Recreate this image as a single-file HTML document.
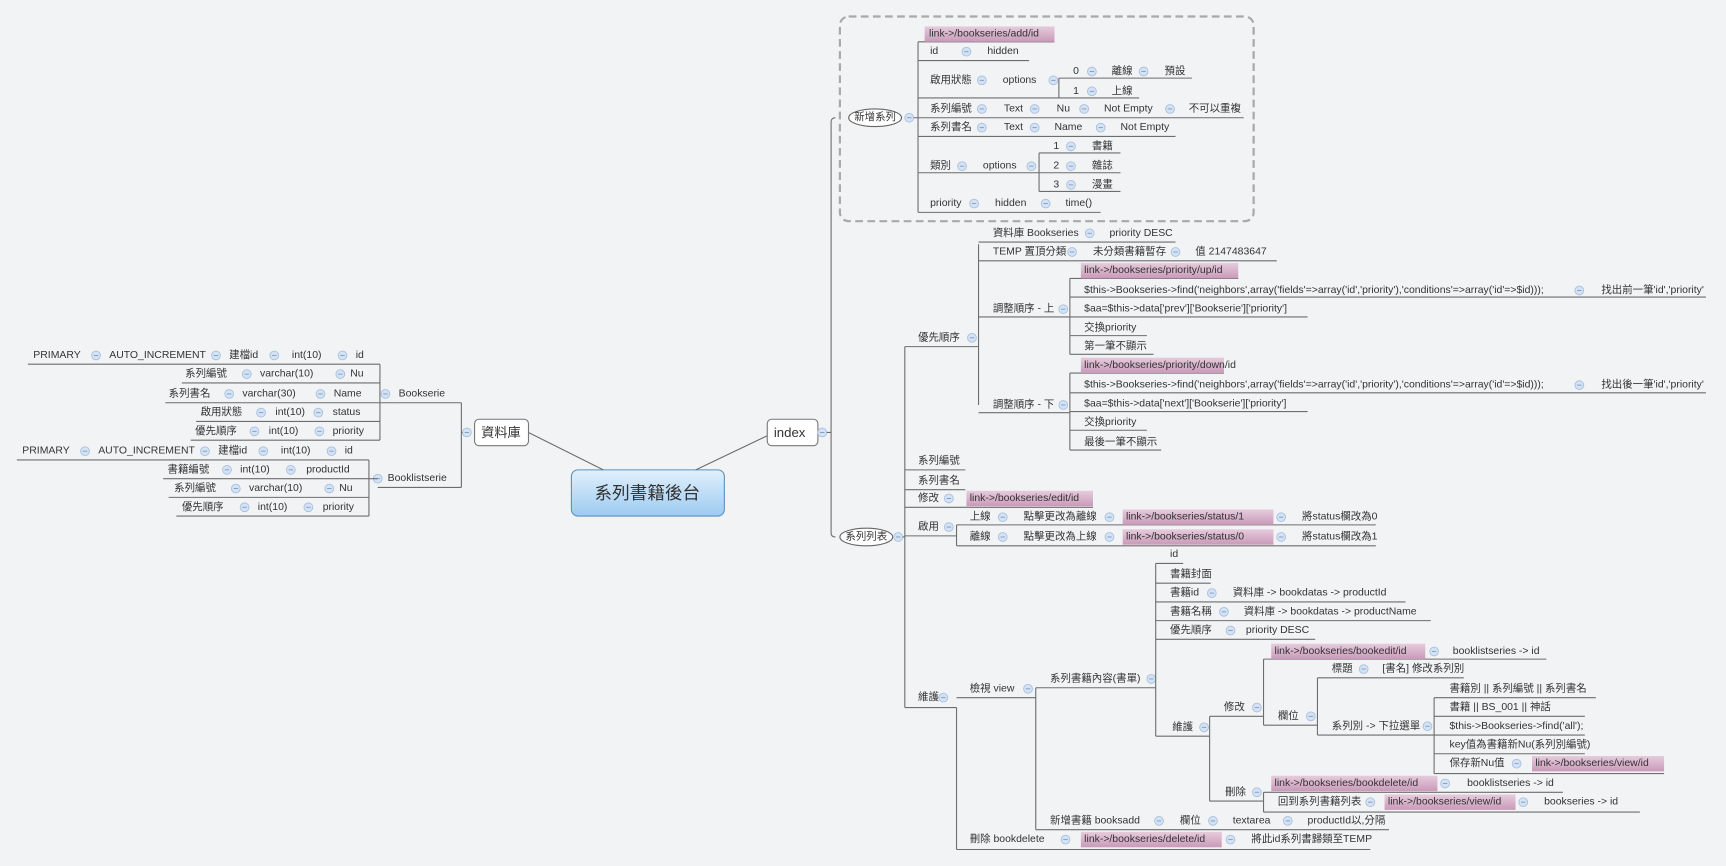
<!DOCTYPE html>
<html><head><meta charset="utf-8"><style>
html,body{margin:0;padding:0;background:#f2f3f5;}
svg{display:block}
text{font-family:"Liberation Sans","Noto Sans CJK TC",sans-serif;font-size:9.5px;fill:#333;dominant-baseline:central}
.l{stroke:#6d6d6d;stroke-width:1;fill:none}
</style></head><body>
<svg width="1726" height="866" viewBox="0 0 1568 787" xmlns="http://www.w3.org/2000/svg">
<defs>
<linearGradient id="cg" x1="0" y1="0" x2="0" y2="1"><stop offset="0" stop-color="#e2f0fb"/><stop offset="1" stop-color="#9ccbf2"/></linearGradient>
<linearGradient id="hg" x1="0" y1="0" x2="0" y2="1"><stop offset="0" stop-color="#e6cbdc"/><stop offset="1" stop-color="#c99ab9"/></linearGradient>
<g id="m"><circle r="4" fill="#d3e3f5" stroke="#a7bfdc" stroke-width="0.8"/><line x1="-2" x2="2" y1="0" y2="0" stroke="#7d98bd" stroke-width="0.8"/></g>
</defs>
<rect width="1568" height="787" fill="#f2f3f5"/>

<!-- center -->
<rect x="519" y="427" width="139" height="42" rx="6" fill="url(#cg)" stroke="#5d8fbd"/>
<text x="588" y="448" text-anchor="middle" style="font-size:16px">系列書籍後台</text>
<path class="l" d="M480 393 L548 427 M632 427 L697 396"/>
<rect x="431" y="381" width="49" height="24" rx="4" fill="#fff" stroke="#777"/>
<text x="437" y="393" style="font-size:12px">資料庫</text>
<use href="#m" x="424" y="393"/>
<rect x="697" y="381" width="46" height="24" rx="4" fill="#fff" stroke="#777"/>
<text x="703" y="393" style="font-size:12px">index</text>
<use href="#m" x="747" y="393"/>

<!-- LEFT -->
<path class="l" d="M420 393 L419 393 M419 366 V443 M362 366 H419 M343 443 H419"/>
<text x="362" y="358">Bookserie</text><use href="#m" x="350" y="358"/>
<text x="352" y="435">Booklistserie</text><use href="#m" x="343" y="435"/>
<path class="l" d="M345 331 V400 M25 331 H345 M165 348 H345 M150 366 H362 M178 383 H345 M173 400 H345"/>
<text x="30" y="323">PRIMARY</text><use href="#m" x="87" y="323"/><text x="99" y="323">AUTO_INCREMENT</text><use href="#m" x="196" y="323"/><text x="208" y="323">建檔id</text><use href="#m" x="249" y="323"/><text x="265" y="323">int(10)</text><use href="#m" x="311" y="323"/><text x="323" y="323">id</text>
<text x="168" y="340">系列編號</text><use href="#m" x="224" y="340"/><text x="236" y="340">varchar(10)</text><use href="#m" x="309" y="340"/><text x="318" y="340">Nu</text>
<text x="153" y="358">系列書名</text><use href="#m" x="208" y="358"/><text x="220" y="358">varchar(30)</text><use href="#m" x="291" y="358"/><text x="303" y="358">Name</text>
<text x="182" y="375">啟用狀態</text><use href="#m" x="237" y="375"/><text x="250" y="375">int(10)</text><use href="#m" x="289" y="375"/><text x="302" y="375">status</text>
<text x="177" y="392">優先順序</text><use href="#m" x="231" y="392"/><text x="244" y="392">int(10)</text><use href="#m" x="290" y="392"/><text x="302" y="392">priority</text>
<path class="l" d="M335 418 V469 M15 418 H335 M148 435 H343 M153 452 H335 M160 469 H335"/>
<text x="20" y="410">PRIMARY</text><use href="#m" x="77" y="410"/><text x="89" y="410">AUTO_INCREMENT</text><use href="#m" x="186" y="410"/><text x="198" y="410">建檔id</text><use href="#m" x="239" y="410"/><text x="255" y="410">int(10)</text><use href="#m" x="301" y="410"/><text x="313" y="410">id</text>
<text x="152" y="427">書籍編號</text><use href="#m" x="206" y="427"/><text x="218" y="427">int(10)</text><use href="#m" x="264" y="427"/><text x="278" y="427">productId</text>
<text x="158" y="444">系列編號</text><use href="#m" x="214" y="444"/><text x="226" y="444">varchar(10)</text><use href="#m" x="299" y="444"/><text x="308" y="444">Nu</text>
<text x="165" y="461">優先順序</text><use href="#m" x="222" y="461"/><text x="234" y="461">int(10)</text><use href="#m" x="280" y="461"/><text x="293" y="461">priority</text>

<!-- RIGHT main -->
<path class="l" d="M751 393 H755 M759 107 Q755 107 755 111 V484 Q755 488 759 488"/>
<rect x="763" y="15" width="376" height="186" rx="8" fill="none" stroke="#a9a9a9" stroke-width="2" stroke-dasharray="7 4"/>
<ellipse cx="795" cy="107" rx="24" ry="8" fill="#fff" stroke="#666"/>
<text x="795" y="107" text-anchor="middle">新增系列</text><use href="#m" x="826" y="107"/>
<path class="l" d="M830 107 H1130 M834 38 V193 M834 38 H958 M834 55 H935 M834 89 H962 M834 124 H1068 M834 157 H944 M834 193 H1000"/>
<rect x="840" y="24" width="118" height="14" fill="url(#hg)"/>
<text x="844" y="31">link-&gt;/bookseries/add/id</text>
<text x="845" y="47">id</text><use href="#m" x="878" y="47"/><text x="897" y="47">hidden</text>
<text x="845" y="73">啟用狀態</text><use href="#m" x="892" y="73"/><text x="911" y="73">options</text><use href="#m" x="957" y="73"/>
<path class="l" d="M962 71 V89 M962 71 H1083 M962 89 H1035"/>
<text x="975" y="65">0</text><use href="#m" x="992" y="65"/><text x="1010" y="65">離線</text><use href="#m" x="1039" y="65"/><text x="1058" y="65">預設</text>
<text x="975" y="83">1</text><use href="#m" x="992" y="83"/><text x="1010" y="83">上線</text>
<text x="845" y="99">系列編號</text><use href="#m" x="892" y="99"/><text x="912" y="99">Text</text><use href="#m" x="940" y="99"/><text x="960" y="99">Nu</text><use href="#m" x="985" y="99"/><text x="1003" y="99">Not Empty</text><use href="#m" x="1063" y="99"/><text x="1080" y="99">不可以重複</text>
<text x="845" y="116">系列書名</text><use href="#m" x="892" y="116"/><text x="912" y="116">Text</text><use href="#m" x="940" y="116"/><text x="958" y="116">Name</text><use href="#m" x="1000" y="116"/><text x="1018" y="116">Not Empty</text>
<text x="845" y="151">類別</text><use href="#m" x="874" y="151"/><text x="893" y="151">options</text><use href="#m" x="937" y="151"/>
<path class="l" d="M944 139 V174 M944 139 H1018 M944 157 H1018 M944 174 H1018"/>
<text x="957" y="133">1</text><use href="#m" x="973" y="133"/><text x="992" y="133">書籍</text>
<text x="957" y="151">2</text><use href="#m" x="973" y="151"/><text x="992" y="151">雜誌</text>
<text x="957" y="168">3</text><use href="#m" x="973" y="168"/><text x="992" y="168">漫畫</text>
<text x="845" y="185">priority</text><use href="#m" x="885" y="185"/><text x="904" y="185">hidden</text><use href="#m" x="950" y="185"/><text x="968" y="185">time()</text>

<!-- 系列列表 -->
<ellipse cx="787" cy="488" rx="24" ry="8" fill="#fff" stroke="#666"/>
<text x="787" y="488" text-anchor="middle">系列列表</text><use href="#m" x="816" y="488"/>
<path class="l" d="M820 488 H822 M822 315 V643 M822 315 H889 M822 427 H877 M822 445 H877 M822 461 H993 M822 487 H869 M822 643 H869"/>
<text x="834" y="307">優先順序</text><use href="#m" x="883" y="307"/>
<path class="l" d="M889 222 V368 M889 220 H1068 M889 237 H1160 M889 288 H972 M889 375 H972"/>
<text x="902" y="212">資料庫 Bookseries</text><use href="#m" x="990" y="212"/><text x="1008" y="212">priority DESC</text>
<text x="902" y="229">TEMP 置頂分類</text><use href="#m" x="974" y="229"/><text x="993" y="229">未分類書籍暫存</text><use href="#m" x="1068" y="229"/><text x="1086" y="229">值 2147483647</text>
<text x="902" y="281">調整順序 - 上</text><use href="#m" x="966" y="281"/>
<path class="l" d="M972 253 V322 M972 253 H1125 M972 270 H1550 M972 288 H1188 M972 305 H1042 M972 322 H1048"/>
<rect x="982" y="239" width="143" height="14" fill="url(#hg)"/>
<text x="985" y="246">link-&gt;/bookseries/priority/up/id</text>
<text x="985" y="264">$this-&gt;Bookseries-&gt;find('neighbors',array('fields'=&gt;array('id','priority'),'conditions'=&gt;array('id'=&gt;$id)));</text><use href="#m" x="1435" y="264"/><text x="1455" y="264">找出前一筆'id','priority'</text>
<text x="985" y="281">$aa=$this-&gt;data['prev']['Bookserie']['priority']</text>
<text x="985" y="298">交換priority</text>
<text x="985" y="315">第一筆不顯示</text>
<text x="902" y="368">調整順序 - 下</text><use href="#m" x="966" y="368"/>
<path class="l" d="M972 339 V409 M972 339 H1112 M972 357 H1550 M972 374 H1188 M972 391 H1042 M972 409 H1055"/>
<rect x="982" y="325" width="130" height="14" fill="url(#hg)"/>
<text x="985" y="332">link-&gt;/bookseries/priority/down/id</text>
<text x="985" y="350">$this-&gt;Bookseries-&gt;find('neighbors',array('fields'=&gt;array('id','priority'),'conditions'=&gt;array('id'=&gt;$id)));</text><use href="#m" x="1435" y="350"/><text x="1455" y="350">找出後一筆'id','priority'</text>
<text x="985" y="367">$aa=$this-&gt;data['next']['Bookserie']['priority']</text>
<text x="985" y="384">交換priority</text>
<text x="985" y="402">最後一筆不顯示</text>

<text x="834" y="419">系列編號</text>
<text x="834" y="437">系列書名</text>
<text x="834" y="453">修改</text><use href="#m" x="862" y="453"/>
<rect x="878" y="446" width="115" height="14" fill="url(#hg)"/><text x="881" y="453">link-&gt;/bookseries/edit/id</text>
<text x="834" y="479">啟用</text><use href="#m" x="862" y="479"/>
<path class="l" d="M869 477 V496 M869 477 H1250 M869 496 H1250"/>
<text x="881" y="470">上線</text><use href="#m" x="911" y="470"/><text x="930" y="470">點擊更改為離線</text><use href="#m" x="1008" y="470"/>
<rect x="1020" y="463" width="137" height="14" fill="url(#hg)"/><text x="1023" y="470">link-&gt;/bookseries/status/1</text><use href="#m" x="1164" y="470"/><text x="1183" y="470">將status欄改為0</text>
<text x="881" y="488">離線</text><use href="#m" x="911" y="488"/><text x="930" y="488">點擊更改為上線</text><use href="#m" x="1008" y="488"/>
<rect x="1020" y="481" width="137" height="14" fill="url(#hg)"/><text x="1023" y="488">link-&gt;/bookseries/status/0</text><use href="#m" x="1164" y="488"/><text x="1183" y="488">將status欄改為1</text>

<text x="834" y="634">維護</text><use href="#m" x="857" y="634"/>
<path class="l" d="M869 643 V772 M869 634 H941 M869 772 H1245"/>
<text x="881" y="626">檢視 view</text><use href="#m" x="934" y="626"/>
<path class="l" d="M941 625 V754 M941 625 H1050 M941 754 H1262"/>
<text x="954" y="617">系列書籍內容(書單)</text><use href="#m" x="1046" y="617"/>
<path class="l" d="M1050 512 V669 M1050 512 H1075 M1050 530 H1100 M1050 547 H1277 M1050 564 H1300 M1050 581 H1195 M1050 669 H1099"/>
<text x="1063" y="504">id</text>
<text x="1063" y="522">書籍封面</text>
<text x="1063" y="539">書籍id</text><use href="#m" x="1101" y="539"/><text x="1120" y="539">資料庫 -&gt; bookdatas -&gt; productId</text>
<text x="1063" y="556">書籍名稱</text><use href="#m" x="1112" y="556"/><text x="1130" y="556">資料庫 -&gt; bookdatas -&gt; productName</text>
<text x="1063" y="573">優先順序</text><use href="#m" x="1118" y="573"/><text x="1132" y="573">priority DESC</text>
<text x="1065" y="661">維護</text><use href="#m" x="1094" y="661"/>
<path class="l" d="M1099 651 V728 M1099 651 H1148 M1099 728 H1148"/>
<text x="1112" y="643">修改</text><use href="#m" x="1142" y="643"/>
<path class="l" d="M1148 599 V659 M1148 599 H1405 M1148 659 H1197"/>
<rect x="1155" y="585" width="140" height="14" fill="url(#hg)"/><text x="1158" y="592">link-&gt;/bookseries/bookedit/id</text><use href="#m" x="1303" y="592"/><text x="1320" y="592">booklistseries -&gt; id</text>
<text x="1161" y="651">欄位</text><use href="#m" x="1191" y="651"/>
<path class="l" d="M1197 616 V668 M1197 616 H1330 M1197 668 H1303"/>
<text x="1210" y="608">標題</text><use href="#m" x="1239" y="608"/><text x="1256" y="608">[書名] 修改系列別</text>
<text x="1210" y="660">系列別 -&gt; 下拉選單</text><use href="#m" x="1297" y="660"/>
<path class="l" d="M1303 634 V703 M1303 634 H1450 M1303 651 H1440 M1303 668 H1440 M1303 685 H1440 M1303 703 H1512"/>
<text x="1317" y="626">書籍別 || 系列編號 || 系列書名</text>
<text x="1317" y="643">書籍 || BS_001 || 神話</text>
<text x="1317" y="660">$this-&gt;Bookseries-&gt;find('all');</text>
<text x="1317" y="677">key值為書籍新Nu(系列別編號)</text>
<text x="1317" y="694">保存新Nu值</text><use href="#m" x="1378" y="694"/>
<rect x="1392" y="687" width="120" height="14" fill="url(#hg)"/><text x="1395" y="694">link-&gt;/bookseries/view/id</text>
<text x="1113" y="720">刪除</text><use href="#m" x="1142" y="720"/>
<path class="l" d="M1148 720 V738 M1148 720 H1420 M1148 738 H1490"/>
<rect x="1155" y="705" width="151" height="14" fill="url(#hg)"/><text x="1158" y="712">link-&gt;/bookseries/bookdelete/id</text><use href="#m" x="1313" y="712"/><text x="1333" y="712">booklistseries -&gt; id</text>
<text x="1161" y="729">回到系列書籍列表</text><use href="#m" x="1245" y="729"/>
<rect x="1258" y="722" width="119" height="14" fill="url(#hg)"/><text x="1261" y="729">link-&gt;/bookseries/view/id</text><use href="#m" x="1384" y="729"/><text x="1403" y="729">bookseries -&gt; id</text>
<text x="954" y="746">新增書籍 booksadd</text><use href="#m" x="1053" y="746"/><text x="1072" y="746">欄位</text><use href="#m" x="1102" y="746"/><text x="1120" y="746">textarea</text><use href="#m" x="1170" y="746"/><text x="1188" y="746">productId以,分隔</text>
<text x="881" y="763">刪除 bookdelete</text><use href="#m" x="968" y="763"/>
<rect x="982" y="756" width="128" height="14" fill="url(#hg)"/><text x="985" y="763">link-&gt;/bookseries/delete/id</text><use href="#m" x="1118" y="763"/><text x="1137" y="763">將此id系列書歸類至TEMP</text>
</svg>
</body></html>
